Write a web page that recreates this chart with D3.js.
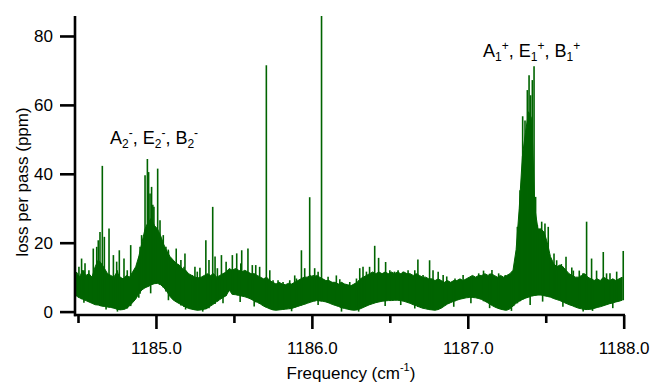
<!DOCTYPE html>
<html>
<head>
    <title>loss per pass spectrum</title>
    <script src="https://unpkg.com/d3@7/dist/d3.min.js"></script>
    <style>
        body { margin: 0; background: #fff; }
        svg text { font-family: "Liberation Sans", Arial, sans-serif; fill: #000; }
    </style>
</head>
<body>
    <svg width="652" height="384"></svg>
    <script>
        (function (d3) {
            'use strict';

            // band sampled every 0.02 cm-1 from 1184.49
            const freqStart = 1184.49;
            const freqStep = 0.02;

            const lowerEdge = [
                4.5, 4.0, 3.6, 3.2, 2.8, 2.4, 2.0, 1.9, 1.6, 1.5,
                1.3, 1.2, 1.0, 0.7, 0.5, 0.6, 0.9, 1.6, 2.6, 3.6,
                5.2, 6.3, 6.9, 7.3, 7.8, 8.1, 8.2, 7.8, 7.0, 5.8,
                4.4, 3.4, 2.8, 2.3, 1.8, 1.3, 0.9, 0.7, 0.5, 0.4,
                0.5, 0.7, 1.0, 1.6, 2.2, 2.9, 3.5, 4.1, 4.6, 6.2,
                5.0, 4.9, 4.7, 4.5, 4.3, 4.0, 3.6, 3.1, 2.7, 2.2,
                1.6, 1.2, 0.8, 0.5, 0.4, 0.5, 0.6, 0.7, 0.8, 0.9,
                1.2, 1.5, 1.8, 2.1, 2.4, 2.7, 3.0, 3.2, 3.1, 3.0,
                2.8, 2.5, 2.1, 1.8, 1.5, 1.1, 0.9, 0.7, 0.5, 0.4,
                0.5, 0.8, 1.2, 1.6, 2.0, 2.3, 2.6, 2.8, 3.0, 3.1,
                3.2, 3.2, 3.3, 3.3, 3.2, 3.0, 2.7, 2.4, 2.0, 1.7,
                1.3, 1.0, 0.8, 0.6, 0.5, 0.4, 0.6, 1.0, 1.6, 2.2,
                2.6, 3.0, 3.3, 3.6, 3.8, 4.0, 4.1, 4.1, 4.0, 3.8,
                3.5, 3.0, 2.5, 1.9, 1.4, 1.0, 0.7, 0.5, 0.4, 0.8,
                1.6, 2.4, 3.0, 3.5, 3.9, 4.2, 4.5, 4.7, 4.8, 4.8,
                4.6, 4.4, 4.2, 3.8, 3.5, 3.2, 2.8, 2.4, 2.0, 1.7,
                1.3, 1.0, 0.8, 0.6, 0.6, 0.7, 0.9, 1.2, 1.4, 1.7,
                2.0, 2.3, 2.5, 2.8, 3.0, 3.3
            ];

            const upperEdge = [
                11.5, 10.0, 12.0, 10.5, 11.0, 10.0, 13.0, 15.0, 14.0, 12.5,
                11.0, 10.5, 10.0, 11.5, 10.0, 9.5, 10.5, 10.0, 11.5, 13.0,
                16.0, 20.0, 24.0, 26.0, 27.0, 25.0, 24.0, 22.0, 19.5, 17.5,
                16.0, 15.0, 14.0, 13.5, 12.5, 12.0, 11.0, 10.5, 10.0, 9.8,
                10.0, 10.5, 11.0, 10.5, 11.0, 10.0, 10.5, 11.0, 11.5, 12.5,
                12.0, 12.5, 12.0, 11.5, 12.0, 11.5, 11.0, 11.0, 10.5, 10.0,
                9.5, 10.0, 9.0, 8.5, 8.0, 8.5, 8.0, 7.8, 8.2, 8.0,
                8.5, 9.0, 9.5, 10.0, 10.0, 10.5, 10.0, 10.5, 10.0, 9.5,
                9.0, 9.0, 8.5, 8.5, 8.0, 8.5, 8.0, 7.8, 7.5, 8.0,
                8.5, 9.5, 10.0, 10.5, 11.0, 11.5, 11.0, 11.5, 11.0, 11.5,
                11.0, 11.5, 11.0, 11.5, 11.0, 11.5, 11.0, 11.0, 10.5, 11.0,
                10.5, 10.0, 10.0, 9.5, 9.5, 9.0, 9.5, 9.0, 8.5, 9.0,
                8.5, 9.0, 9.0, 9.5, 9.0, 9.5, 10.0, 10.5, 10.0, 10.5,
                10.5, 11.0, 10.5, 11.0, 10.5, 10.0, 10.5, 10.0, 10.5, 11.0,
                12.0, 18.0, 30.0, 45.0, 52.0, 58.0, 56.0, 30.0, 24.0, 24.0,
                23.0, 20.0, 16.0, 14.0, 13.0, 13.5, 13.0, 12.0, 11.0, 10.5,
                10.0, 10.0, 10.5, 11.0, 10.0, 9.5, 9.0, 9.5, 9.0, 10.0,
                9.5, 9.0, 9.5, 9.0, 9.5, 10.0
            ];

            // [frequency, loss] of the narrow lines sticking out of the band
            const spikes = [
                [1184.506, 13.0], [1184.523, 15.4], [1184.538, 11.5], [1184.545, 14.0],
                [1184.570, 12.0], [1184.598, 18.3], [1184.620, 18.8], [1184.630, 20.7],
                [1184.641, 23.1], [1184.656, 42.3], [1184.669, 21.7], [1184.699, 24.1],
                [1184.727, 16.4], [1184.748, 14.5], [1184.752, 12.0], [1184.765, 17.8],
                [1184.795, 15.4], [1184.816, 12.0], [1184.838, 19.3], [1184.898, 18.8],
                [1184.908, 22.2], [1184.930, 39.6], [1184.945, 44.3], [1184.953, 40.5],
                [1184.962, 34.3], [1184.972, 36.2], [1184.980, 31.0], [1184.987, 30.4],
                [1185.011, 41.5], [1185.026, 26.5], [1185.047, 22.2], [1185.064, 18.8],
                [1185.079, 18.0], [1185.130, 18.3], [1185.160, 15.0], [1185.180, 13.0],
                [1185.186, 16.9], [1185.233, 10.6], [1185.250, 13.0], [1185.265, 11.6],
                [1185.282, 12.7], [1185.320, 20.7], [1185.340, 15.0], [1185.364, 30.4],
                [1185.379, 16.0], [1185.394, 12.6], [1185.420, 16.4], [1185.450, 14.5],
                [1185.490, 16.4], [1185.518, 16.9], [1185.544, 14.0], [1185.550, 17.8],
                [1185.590, 18.3], [1185.618, 13.5], [1185.640, 13.5], [1185.665, 13.0],
                [1185.708, 71.5], [1185.730, 12.0], [1185.751, 9.1], [1185.783, 9.1],
                [1185.815, 8.6], [1185.858, 9.1], [1185.890, 10.5], [1185.901, 9.6],
                [1185.933, 17.8], [1185.954, 12.6], [1185.986, 33.2], [1186.008, 10.6],
                [1186.018, 12.6], [1186.040, 11.6], [1186.062, 88.0], [1186.104, 10.1],
                [1186.157, 10.5], [1186.179, 9.4], [1186.243, 8.6], [1186.286, 9.6],
                [1186.307, 12.6], [1186.328, 13.0], [1186.350, 11.6], [1186.370, 13.0],
                [1186.403, 19.1], [1186.428, 15.6], [1186.473, 14.4], [1186.500, 12.0],
                [1186.530, 11.6], [1186.553, 12.0], [1186.585, 11.6], [1186.617, 12.0],
                [1186.660, 12.0], [1186.680, 15.1], [1186.713, 10.6], [1186.755, 14.9],
                [1186.777, 12.0], [1186.810, 11.6], [1186.842, 10.6], [1186.865, 10.2],
                [1186.918, 9.6], [1186.970, 10.6], [1187.025, 9.9], [1187.070, 11.1],
                [1187.101, 11.9], [1187.155, 12.1], [1187.198, 11.1], [1187.240, 10.6],
                [1187.294, 11.9], [1187.318, 24.6], [1187.335, 35.2], [1187.346, 37.2],
                [1187.352, 56.7], [1187.367, 55.5], [1187.382, 64.3], [1187.393, 68.6],
                [1187.403, 62.8], [1187.414, 67.2], [1187.425, 71.2], [1187.435, 33.3],
                [1187.446, 25.1], [1187.474, 26.1], [1187.495, 25.6], [1187.516, 24.6],
                [1187.553, 16.9], [1187.570, 14.9], [1187.600, 13.8], [1187.630, 15.9],
                [1187.667, 12.8], [1187.677, 11.9], [1187.715, 11.9], [1187.740, 11.1],
                [1187.762, 26.1], [1187.794, 15.4], [1187.826, 11.9], [1187.869, 17.3],
                [1187.890, 11.1], [1187.912, 11.1], [1187.955, 11.6], [1187.997, 17.6]
            ];

            // [frequency, loss] of the short drops under the band
            const notches = [
                [1184.538, 2.6], [1184.680, 0.6], [1184.753, 0.0], [1184.890, 4.0],
                [1184.966, 5.3], [1185.080, 3.3], [1185.190, 0.6], [1185.300, 0.0],
                [1185.430, 2.4], [1185.540, 2.8], [1185.630, 1.5], [1185.870, 0.1],
                [1186.040, 1.9], [1186.190, 0.0], [1186.300, 0.0], [1186.470, 1.6],
                [1186.570, 1.9], [1186.660, 0.9], [1186.910, 1.4], [1187.020, 2.4],
                [1187.140, 1.0], [1187.280, 0.2], [1187.400, 1.9], [1187.480, 2.9],
                [1187.610, 1.4], [1187.740, 0.0], [1187.800, 0.2], [1187.930, 1.0]
            ];

            const majorTicks = [1185.0, 1186.0, 1187.0, 1188.0];
            const minorTicks = [1184.5, 1185.5, 1186.5, 1187.5];
            const yTicks = [0, 20, 40, 60, 80];

            const traceColor = '#006400';
            const svg = d3.select('svg');

            const xScale = d3.scaleLinear().domain([1184.5, 1188.0]).range([78, 623.7]);
            const yScale = d3.scaleLinear().domain([0, 85.8]).range([311.6, 16]);

            const band = upperEdge.map((hi, i) => ({
                f: freqStart + i * freqStep,
                lo: lowerEdge[i],
                hi
            }));
            const nearestSample = f => {
                const i = Math.max(0, Math.min(band.length - 1, Math.round((f - freqStart) / freqStep)));
                return band[i];
            };

            svg.append('clipPath').attr('id', 'plotClip')
                .append('rect')
                .attr('x', 75).attr('y', 16)
                .attr('width', 552).attr('height', 300);

            const plotG = svg.append('g').attr('clip-path', 'url(#plotClip)');

            // dense noise band of the trace
            const bandArea = d3.area()
                .x(d => xScale(d.f))
                .y0(d => yScale(d.lo))
                .y1(d => yScale(d.hi));

            plotG.append('path')
                .datum(band)
                .attr('fill', traceColor)
                .attr('stroke', traceColor)
                .attr('stroke-width', 1)
                .attr('d', bandArea);

            // narrow lines up from the band and short drops below it
            plotG.selectAll('.spike')
                .data(spikes)
                .enter().append('line')
                .attr('class', 'spike')
                .attr('x1', d => xScale(d[0]))
                .attr('x2', d => xScale(d[0]))
                .attr('y1', d => yScale(nearestSample(d[0]).lo))
                .attr('y2', d => yScale(d[1]))
                .attr('stroke', traceColor)
                .attr('stroke-width', 1.6);

            plotG.selectAll('.notch')
                .data(notches)
                .enter().append('line')
                .attr('class', 'notch')
                .attr('x1', d => xScale(d[0]))
                .attr('x2', d => xScale(d[0]))
                .attr('y1', d => yScale(nearestSample(d[0]).hi))
                .attr('y2', d => yScale(d[1]))
                .attr('stroke', traceColor)
                .attr('stroke-width', 1.6);

            // axes
            const axisY = 315;
            const axisX = 75;

            const xAxisG = svg.append('g').attr('transform', `translate(0,${axisY})`);
            xAxisG.call(d3.axisBottom(xScale)
                    .tickValues(majorTicks)
                    .tickFormat(d3.format('.1f'))
                    .tickSize(14)
                    .tickPadding(13));
            xAxisG.append('g').call(d3.axisBottom(xScale)
                    .tickValues(minorTicks)
                    .tickFormat('')
                    .tickSize(8));
            xAxisG.selectAll('.domain').remove();
            xAxisG.append('line')
                .attr('class', 'axis-line')
                .attr('x1', axisX - 1).attr('x2', xScale(1188.0) + 1.3)
                .attr('y1', 0).attr('y2', 0);

            const yAxisG = svg.append('g').attr('transform', `translate(${axisX},0)`);
            yAxisG.call(d3.axisLeft(yScale)
                    .tickValues(yTicks)
                    .tickSize(15)
                    .tickPadding(7));
            yAxisG.select('.domain').remove();
            yAxisG.append('line')
                .attr('class', 'axis-line')
                .attr('x1', 0).attr('x2', 0)
                .attr('y1', 16).attr('y2', axisY + 1.3);

            svg.selectAll('.tick line, .axis-line')
                .attr('stroke', '#000')
                .attr('stroke-width', 2.6);
            svg.selectAll('.tick text')
                .attr('font-size', 17)
                .attr('font-family', '"Liberation Sans", Arial, sans-serif')
                .attr('fill', '#000');

            // axis titles
            svg.append('text')
                .attr('transform', 'translate(28,182) rotate(-90)')
                .attr('text-anchor', 'middle')
                .attr('font-size', 17)
                .text('loss per pass (ppm)');

            const xTitle = svg.append('text')
                .attr('x', 351).attr('y', 379)
                .attr('text-anchor', 'middle')
                .attr('font-size', 17);
            xTitle.append('tspan').text('Frequency (cm');
            xTitle.append('tspan').attr('dy', -8).attr('font-size', 11).text('-1');
            xTitle.append('tspan').attr('dy', 8).text(')');

            // band labels
            const bandLabel = (x, y, letters, sub, sup) => {
                const t = svg.append('text').attr('x', x).attr('y', y).attr('font-size', 18);
                letters.forEach((l, i) => {
                    t.append('tspan').attr('dy', i === 0 ? 0 : 7).text((i === 0 ? '' : ', ') + l);
                    t.append('tspan').attr('dy', 4).attr('font-size', 12).text(sub);
                    t.append('tspan').attr('dy', -11).attr('font-size', 12).text(sup);
                });
            };
            bandLabel(110, 144, ['A', 'E', 'B'], '2', '-');
            bandLabel(483, 57, ['A', 'E', 'B'], '1', '+');

        }(d3));
    </script>
</body>
</html>
